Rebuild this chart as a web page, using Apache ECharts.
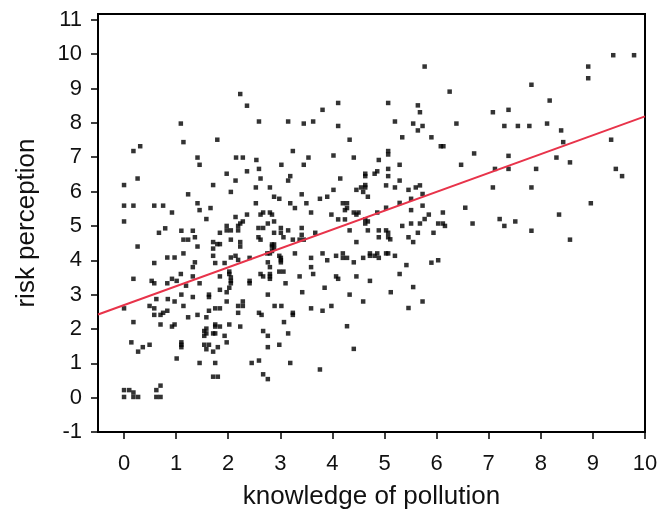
<!DOCTYPE html>
<html><head><meta charset="utf-8">
<script src="https://cdn.jsdelivr.net/npm/echarts@6/dist/echarts.min.js"></script>
<style>html,body{margin:0;padding:0;background:#fff}#c{width:662px;height:523px}</style>
</head><body><div id="c"></div>
<script>
const xTicks = [0,1,2,3,4,5,6,7,8,9,10];
const yTicks = [-1,0,1,2,3,4,5,6,7,8,9,10,11];
const xName = 'knowledge of pollution';
const yName = 'risk perception';
// regression line read at the plot's left and right edges
const fitX = [-0.5, 10];
const fitY = [2.42, 8.19];
// scatter points [knowledge, risk]
const pointsA = [
[2.23,8.84],[2.36,8.50],[1.09,7.98],[1.79,7.51],[1.14,7.44],[0.31,7.32],[0.18,7.18],[1.41,6.99],[2.15,6.99],[2.28,6.99],[1.45,6.78],
[4.11,8.58],[3.81,8.38],[2.59,8.04],[3.15,8.04],[3.45,7.98],[3.63,8.04],[4.11,7.91],[4.33,7.51],[3.24,7.18],[2.54,6.92],[3.54,6.99],[4.02,7.05],[4.41,6.99],[4.89,6.92],[3.02,6.78],[3.45,6.78],
[5.77,9.64],[6.25,8.91],[5.07,8.58],[5.64,8.51],[5.68,8.31],[7.08,8.31],[7.38,8.38],[5.20,8.04],[5.55,7.98],[5.73,7.91],[6.38,7.98],[7.30,7.91],[7.56,7.91],[5.64,7.78],[5.34,7.58],[5.90,7.58],[6.08,7.32],[6.13,7.32],[5.07,7.18],[5.07,7.08],[6.72,7.11],[7.38,7.04],[5.29,6.78],[6.47,6.78],
[9.39,9.97],[9.79,9.97],[8.91,9.64],[8.91,9.30],[7.82,9.11],[8.17,8.65],[7.78,7.91],[8.12,7.98],[8.39,7.78],[8.43,7.44],[9.35,7.51],[8.30,6.99],[8.56,6.85],
[7.91,6.66],[9.44,6.66],[9.56,6.45],[7.82,6.12],[8.96,5.66],[8.35,5.33],[7.82,4.86],[8.56,4.60]
];
const pointsB = [
[5.07,6.66],[5.07,6.45],[5.29,6.32],[5.03,6.18],[5.20,6.12],[5.46,6.05],[5.60,6.12],[5.68,6.18],[7.08,6.12],[7.12,6.66],[7.38,6.66],[5.51,5.79],[5.73,5.93],[5.29,5.67],[5.03,5.53],[5.51,5.46],[5.73,5.59],[6.12,5.39],[6.55,5.53],[5.85,5.33],[5.77,5.20],[7.21,5.20],[7.51,5.13],[7.30,5.00],[5.34,5.00],[5.51,5.07],[5.68,5.07],[6.03,5.07],[6.12,5.07],[6.16,5.00],[6.69,5.07],[5.03,4.87],[5.07,4.80],[5.07,4.67],[5.11,4.61],[5.64,4.80],[5.94,4.80],[5.46,4.67],[5.55,4.53],[5.03,4.20],[5.07,4.20],[5.20,4.13],[5.42,3.86],[5.90,3.93],[6.03,4.00],[5.29,3.60],[5.55,3.22],
[5.12,3.07],[5.73,2.80],[5.46,2.61],
[3.85,3.20],[2.76,3.00],[3.42,3.07],[4.33,3.00],[4.59,2.80],[2.89,2.67],[3.02,2.67],[3.59,2.60],[3.81,2.53],[3.98,2.67],[2.59,2.47],[2.64,2.41],[3.24,2.47],[3.24,2.41],[3.07,2.20],[2.67,1.94],[2.76,1.80],[3.15,1.87],[4.28,2.08],[2.76,1.47],[2.98,1.54],[4.41,1.42],[2.45,1.01],[2.59,1.08],[3.19,1.01],[3.76,0.82],[2.67,0.68],[2.76,0.54]
];
const pointsC = [
[0.00,2.60],[0.18,2.20],[0.62,2.87],[0.49,2.67],[0.58,2.60],[0.84,2.87],[0.97,2.80],[1.10,3.00],[1.32,2.93],[1.14,2.67],[0.83,2.53],[0.75,2.47],[0.58,2.41],[0.70,2.41],[1.23,2.34],[1.41,2.41],[1.58,2.34],[1.63,3.00],[1.63,2.93],[1.84,3.14],[1.97,3.07],[2.02,3.20],[1.63,2.53],[1.75,2.60],[1.84,2.60],[1.97,2.80],[2.28,2.80],[2.28,2.67],[2.19,2.67],[2.19,2.47],[0.70,2.13],[0.92,2.07],[0.97,2.13],[1.58,2.01],[1.75,2.13],[1.84,2.07],[1.75,2.07],[1.54,1.94],[1.58,1.87],[1.54,1.80],[1.71,1.87],[1.75,1.87],[1.93,1.80],[2.23,2.07],[2.02,2.13],[1.97,1.61],[1.10,1.61],[1.10,1.54],[1.10,1.47],[1.54,1.54],[1.63,1.54],[1.58,1.41],[1.80,1.47],[1.71,1.34],[0.14,1.61],[0.36,1.47],[0.27,1.34],[0.49,1.54],[1.01,1.14],[1.45,1.01],[1.75,1.01],[1.71,0.61],[1.80,0.61],[0.00,0.22],[0.10,0.22],[0.18,0.15],[0.18,0.02],[0.27,0.02],[0.00,0.02],[0.70,0.35],[0.62,0.22],[0.62,0.02],[0.70,0.02],[1.19,3.26],
[0.26,6.38],[0.00,6.19],[1.97,6.52],[2.14,6.32],[2.36,6.59],[1.71,6.19],[2.05,5.99],[1.23,5.92],[0.00,5.59],[0.18,5.59],[0.58,5.59],[0.75,5.59],[1.41,5.66],[1.45,5.46],[1.66,5.52],[0.92,5.39],[0.00,5.13],[1.58,5.20],[2.14,5.26],[2.28,5.13],[2.23,5.07],[2.19,5.00],[2.36,5.33],[1.97,5.00],[1.97,4.87],[2.05,4.87],[2.19,4.87],[0.79,4.93],[0.67,4.80],[1.10,4.86],[1.32,4.86],[1.84,4.80],[1.36,4.67],[1.14,4.60],[1.23,4.60],[2.05,4.60],[1.71,4.53],[1.79,4.47],[1.84,4.47],[2.23,4.53],[2.23,4.40],[0.26,4.40],[1.41,4.40],[1.71,4.34],[1.14,4.20],[1.71,4.13],[2.05,4.08],[2.14,4.13],[2.19,4.01],[0.83,4.08],[0.97,4.08],[0.58,3.92],[1.36,3.94],[1.32,3.80],[1.75,3.92],[1.93,3.92],[2.02,3.67],[2.02,3.60],[2.05,3.50],[2.05,3.40],[2.05,3.33],[1.09,3.60],[1.32,3.53],[1.84,3.53],[0.18,3.46],[0.53,3.40],[0.58,3.33],[0.92,3.46],[1.01,3.40],[0.83,3.33],[1.45,3.33]
];
const pointsD = [
[2.59,6.66],[2.62,6.38],[3.15,6.32],[3.19,6.45],[2.53,6.12],[2.80,6.12],[4.15,6.38],[4.63,6.52],[4.63,6.45],[4.86,6.59],[4.81,6.52],[4.63,6.19],[4.63,6.12],[4.46,6.05],[4.55,6.12],[4.59,5.99],[4.68,5.85],[4.02,6.05],[3.41,5.92],[2.88,5.85],[2.98,5.79],[3.76,5.79],[3.90,5.85],[2.53,5.66],[3.19,5.66],[3.28,5.52],[3.50,5.66],[4.20,5.66],[4.28,5.66],[4.28,5.52],[4.24,5.46],[2.67,5.39],[2.62,5.33],[2.80,5.39],[2.84,5.33],[3.59,5.39],[3.98,5.33],[4.41,5.39],[4.50,5.39],[4.46,5.33],[4.86,5.39],[4.11,5.19],[4.24,5.19],[4.63,5.19],[4.63,5.07],[4.68,5.13],[2.88,5.13],[2.58,4.94],[2.67,4.94],[2.76,5.07],[3.01,4.94],[3.01,4.80],[3.15,4.87],[3.41,4.94],[2.88,4.80],[2.58,4.67],[2.62,4.60],[3.06,4.67],[3.24,4.60],[3.41,4.74],[3.37,4.60],[3.45,4.60],[3.67,4.80],[4.33,4.87],[4.68,4.87],[4.89,4.87],[4.46,4.53],[4.89,4.67],
[2.84,4.46],[2.88,4.46],[2.84,4.40],[2.88,4.34],[2.84,4.27],[2.80,4.20],[2.75,4.20],[2.41,4.07],[2.98,4.13],[3.01,4.07],[3.01,4.00],[3.01,3.94],[3.28,4.20],[3.59,4.07],[3.81,4.20],[3.90,4.00],[4.07,4.13],[4.20,4.20],[4.20,4.07],[4.28,4.07],[4.41,3.94],[4.59,4.07],[4.72,4.20],[4.72,4.13],[4.86,4.20],[4.81,4.13],[4.89,4.07],[2.76,3.94],[2.80,3.80],[3.59,3.80],[3.63,3.60],[2.62,3.60],[2.67,3.53],[2.80,3.60],[2.80,3.53],[2.80,3.46],[2.98,3.67],[3.06,3.67],[3.37,3.53],[4.07,3.53],[4.11,3.46],[4.46,3.53],[4.72,3.40],[2.41,3.40],[2.41,3.33],[3.10,3.33]
];
const allPoints = pointsA.concat(pointsB, pointsC, pointsD);

const font = 'Liberation Sans, Arial, sans-serif';
const chart = echarts.init(document.getElementById('c'));
chart.setOption({
  animation: false,
  grid: {left: 98, right: 17, top: 14, bottom: 91, show: true, borderColor: '#000', borderWidth: 2, backgroundColor: 'transparent'},
  xAxis: {
    type: 'value', min: -0.5, max: 10,
    name: xName, nameLocation: 'middle', nameGap: 52,
    nameTextStyle: {fontFamily: font, fontSize: 26, color: '#111'},
    axisLine: {show: true, onZero: false, lineStyle: {color: '#000', width: 2}},
    axisTick: {show: true, inside: false, length: 7, lineStyle: {color: '#000', width: 1.5}, customValues: xTicks},
    axisLabel: {fontFamily: font, fontSize: 22, color: '#111', margin: 21, customValues: xTicks},
    splitLine: {show: false}
  },
  yAxis: {
    type: 'value', min: -1, max: 11.17,
    name: yName, nameLocation: 'middle', nameGap: 58, nameRotate: 90,
    nameTextStyle: {fontFamily: font, fontSize: 26, color: '#111'},
    axisLine: {show: true, onZero: false, lineStyle: {color: '#000', width: 2}},
    axisTick: {show: true, inside: false, length: 7, lineStyle: {color: '#000', width: 1.5}, customValues: yTicks},
    axisLabel: {fontFamily: font, fontSize: 22, color: '#111', margin: 16, customValues: yTicks},
    splitLine: {show: false}
  },
  series: [
    {type: 'scatter', data: allPoints, symbol: 'rect', symbolSize: 4.5, itemStyle: {color: '#000'}, z: 2},
    {type: 'line', data: fitX.map((x, i) => [x, fitY[i]]), symbol: 'none', lineStyle: {color: '#e8334a', width: 2}, z: 3}
  ]
});
</script></body></html>
